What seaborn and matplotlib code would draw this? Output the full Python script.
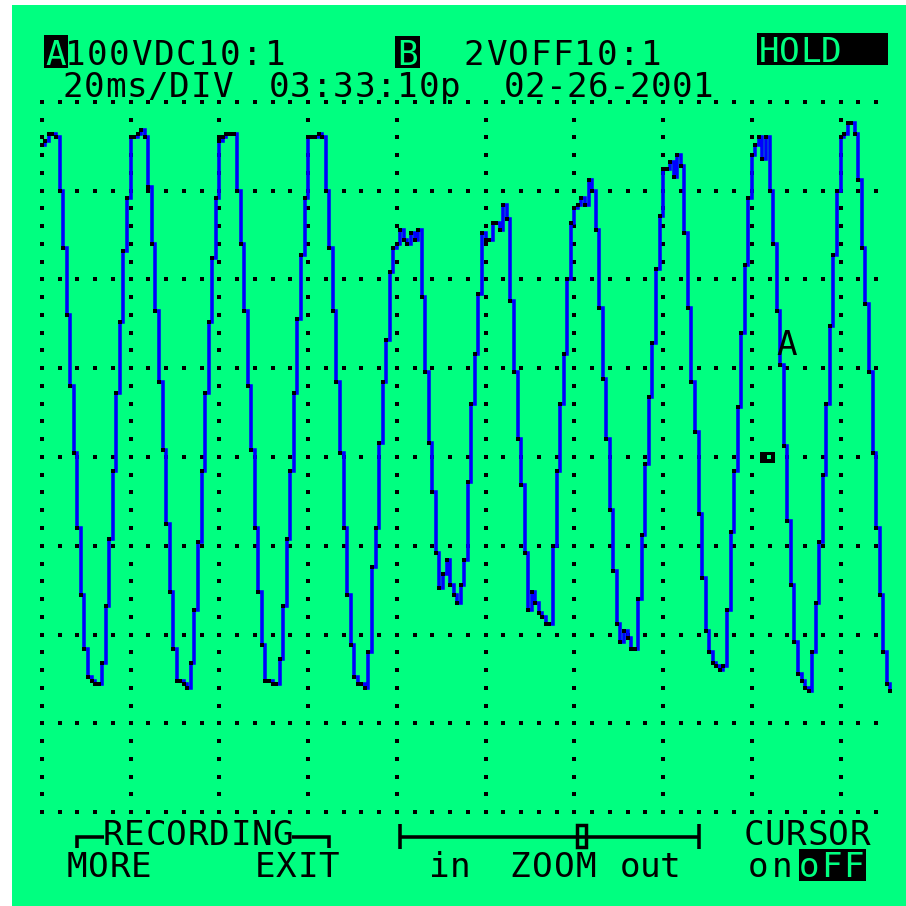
import numpy as np
import pandas as pd
import matplotlib
matplotlib.use("Agg")
import matplotlib.pyplot as plt
from matplotlib.patches import Rectangle
import seaborn as sns

# Channel A trace as shown on the scope: one reading per screen column (V)
SAMPLE_MS = 0.8
trace_volts = [
    # cycle 1
    352, 356, 364, 364, 360, 300, 236, 160, 80, 4, -80, -156, -216,
    -248, -252, -256, -256, -232, -168, -92, -16, 72, 152, 232, 292,
    # cycle 2
    360, 360, 364, 368, 360, 304, 240, 164, 84, 8, -76, -152, -216,
    -252, -252, -256, -260, -232, -172, -96, -16, 72, 152, 224, 292,
    # cycle 3
    356, 360, 364, 364, 364, 300, 240, 164, 80, 8, -80, -152, -212,
    -252, -252, -256, -256, -228, -168, -92, -16, 72, 156, 228, 292,
    # cycle 4
    360, 360, 360, 364, 360, 300, 236, 164, 84, 4, -80, -156, -212,
    -248, -256, -256, -260, -220, -124, -80, 16, 84, 132, 208, 236,
    # cycle 5
    240, 256, 244, 240, 252, 244, 256, 180, 96, 16, -40, -108, -148,
    -132, -116, -144, -156, -164, -144, -116, -28, 60, 116, 184, 252,
    # cycle 6
    244, 244, 264, 264, 256, 284, 268, 176, 96, 20, -32, -108, -172,
    -152, -164, -176, -180, -188, -188, -100, -16, 60, 116, 200, 264,
    # cycle 7
    280, 284, 292, 284, 312, 300, 256, 168, 88, 20, -60, -128, -188,
    -208, -196, -204, -216, -216, -160, -88, -8, 68, 128, 212, 272,
    # cycle 8
    324, 324, 332, 316, 340, 328, 252, 168, 84, 28, -64, -136, -196,
    -220, -232, -236, -240, -236, -172, -84, -16, 56, 140, 216, 292,
    # cycle 9
    340, 352, 360, 336, 360, 300, 240, 164, 104, 12, -72, -144, -208,
    -244, -252, -260, -264, -220, -164, -96, -20, 60, 148, 228, 300,
    # cycle 10 (partial)
    360, 364, 376, 376, 364, 312, 236, 172, 96, 4, -80, -156, -220,
    -256, -264,
]

# screen settings / labels
MS_PER_DIV = 20
V_PER_DIV = 100
header_a = "100VDC10:1"
header_b = "2VOFF10:1"
timebase = "20ms/DIV"
clock = "03:33:10p"
date = "02-26-2001"

LCD_GREEN = "#00FF80"
TRACE_BLUE = "#0000FF"

sns.set_theme(style="white")
plt.rcParams["font.family"] = ["DejaVu Sans Mono", "DejaVu Sans"]

W = H = 906
fig = plt.figure(figsize=(W / 100, H / 100), dpi=100)
fig.patch.set_facecolor("white")

# LCD area (pixels, measured from top-left)
SX0, SY0 = 12, 5
PX_PER_MS = 88.75 / MS_PER_DIV
PX_PER_V = 88.75 / V_PER_DIV
T0_PX, V0_PX = 41.8, 457

ax = fig.add_axes([SX0 / W, 0, (W - SX0) / W, (H - SY0) / H])
ax.set_facecolor(LCD_GREEN)
ax.set_xlim((SX0 - T0_PX) / PX_PER_MS, (W - T0_PX) / PX_PER_MS)
ax.set_ylim((V0_PX - H) / PX_PER_V, (V0_PX - SY0) / PX_PER_V)
ax.set_xticks([])
ax.set_yticks([])
for sp in ax.spines.values():
    sp.set_visible(False)

# dotted graticule
dot = 5.5
row_t = np.arange(0, 188.1, MS_PER_DIV / 5)
for v in range(-4 * V_PER_DIV, 4 * V_PER_DIV + 1, V_PER_DIV):
    ax.scatter(row_t, np.full(row_t.shape, v), marker="s", s=dot, c="black", lw=0, zorder=1)
col_v = np.arange(-4 * V_PER_DIV, 4 * V_PER_DIV + 1, V_PER_DIV / 5)
for t in range(0, 9 * MS_PER_DIV + 1, MS_PER_DIV):
    ax.scatter(np.full(col_v.shape, t), col_v, marker="s", s=dot, c="black", lw=0, zorder=1)

# trace
df = pd.DataFrame({"ms": np.arange(len(trace_volts)) * SAMPLE_MS, "V": trace_volts})
sns.lineplot(data=df, x="ms", y="V", ax=ax, color=TRACE_BLUE, lw=2.56, errorbar=None,
             drawstyle="steps-post", solid_joinstyle="miter", solid_capstyle="butt", zorder=3)
sns.scatterplot(data=df, x="ms", y="V", ax=ax, marker="s", s=6.5, color="black",
                linewidth=0, zorder=4)
ax.set_xlabel("")
ax.set_ylabel("")

# overlay in pixel coordinates for the screen texts
ov = fig.add_axes([0, 0, 1, 1], zorder=5)
ov.set_xlim(0, W)
ov.set_ylim(H, 0)
ov.axis("off")

FS = 24.7


def lcd(x, y, text, pitch=21.3, color="black"):
    """place text char by char like the fixed cells of the LCD font"""
    for i, ch in enumerate(text):
        if ch != " ":
            ov.text(x + i * pitch, y, ch, color=color, fontsize=FS,
                    ha="center", va="baseline")


def box(x, y, w, h, fc="black", ec="none", lw=0):
    ov.add_patch(Rectangle((x, y), w, h, facecolor=fc, edgecolor=ec, lw=lw))


def seg(xs, ys):
    ov.plot(xs, ys, color="black", lw=2.56, solid_joinstyle="miter", solid_capstyle="butt")


# header
box(44, 35, 24, 33)
lcd(56, 65, "A", color=LCD_GREEN)
lcd(75, 65, header_a, pitch=22.2)
box(395, 36, 25, 32)
lcd(407.5, 65, "B", color=LCD_GREEN)
lcd(474, 65, header_b, pitch=22.1)
box(757, 33, 131, 32)
lcd(769, 62, "HOLD", pitch=20.7, color=LCD_GREEN)

lcd(72.5, 97, timebase, pitch=21.4)
lcd(279, 97, clock, pitch=21.4)
lcd(514, 97, date, pitch=21.0)

# channel marker and ground level
lcd(787, 355, "A")
box(760, 452, 15, 10.5)
box(767, 455, 4, 4, fc=LCD_GREEN)

# footer: recording
lcd(113, 845, "RECORDING", pitch=21.25)
seg([77, 77, 104], [848, 837, 837])
seg([292, 329, 329], [837, 837, 848])
lcd(77, 877, "MORE")
lcd(265, 877, "EXIT")

# footer: zoom slider
seg([400, 699], [837, 837])
seg([400, 400], [824, 849])
seg([699, 699], [824, 849])
box(577, 825, 9, 22, fc=LCD_GREEN, ec="black", lw=2.5)
lcd(439, 877, "in", pitch=21)
lcd(520, 877, "ZOOM", pitch=22)
lcd(630, 877, "out", pitch=20)

# footer: cursor
lcd(754, 845, "CURSOR", pitch=21.2)
lcd(758, 877, "on", pitch=24)
box(799, 849, 67, 32)
lcd(809, 877, "oFF", pitch=22, color=LCD_GREEN)

fig.savefig("out.png", dpi=100, facecolor=fig.get_facecolor())
